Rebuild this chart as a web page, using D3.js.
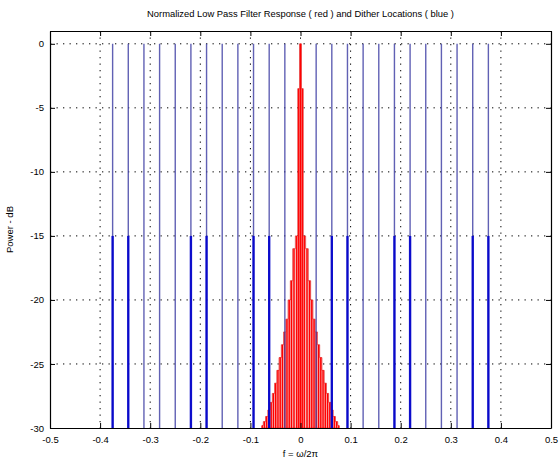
<!DOCTYPE html>
<html>
<head>
<meta charset="utf-8">
<script src="https://cdn.jsdelivr.net/npm/d3@7"></script>
<style>
  body { margin: 0; background: #fff; }
  text { font-family: "Liberation Sans", Arial, sans-serif; }
</style>
</head>
<body>
<div id="chart"></div>
<script>
// tick values
var xTicks = [-0.5, -0.4, -0.3, -0.2, -0.1, 0, 0.1, 0.2, 0.3, 0.4, 0.5];
var yTicks = [-30, -25, -20, -15, -10, -5, 0];

// dither locations (blue), all reach 0 dB
var ditherFreq = [-0.375, -0.34375, -0.3125, -0.28125, -0.25, -0.21875, -0.1875, -0.15625, -0.125, -0.09375, -0.0625, -0.03125,
                  0.03125, 0.0625, 0.09375, 0.125, 0.15625, 0.1875, 0.21875, 0.25, 0.28125, 0.3125, 0.34375, 0.375];
// dither locations drawn a second time, up to -15 dB
var ditherLowFreq = [-0.375, -0.34375, -0.21875, -0.1875, -0.09375, -0.0625,
                     0.0625, 0.09375, 0.1875, 0.21875, 0.34375, 0.375];
var ditherLowDb = -15;

// filter response (red)
var filterFreq = [-0.0765, -0.072, -0.0675, -0.063, -0.0585, -0.054, -0.0495, -0.045, -0.0405, -0.036, -0.0315, -0.027,
                  -0.0225, -0.018, -0.013, -0.0075, -0.0035, 0,
                  0.0035, 0.0075, 0.013, 0.018, 0.0225, 0.027, 0.0315, 0.036, 0.0405, 0.045, 0.0495, 0.054,
                  0.0585, 0.063, 0.0675, 0.072, 0.0765];
var filterDb = [-29.8, -29.5, -29.1, -28.6, -28.0, -27.3, -26.5, -25.5, -24.5, -23.5, -22.5, -21.5,
                -20.0, -18.5, -16.0, -15.0, -3.5, 0,
                -3.5, -15.0, -16.0, -18.5, -20.0, -21.5, -22.5, -23.5, -24.5, -25.5, -26.5, -27.3,
                -28.0, -28.6, -29.1, -29.5, -29.8];

var margin = {top: 31, right: 8, bottom: 33, left: 50},
    width = 559 - margin.left - margin.right,
    height = 461 - margin.top - margin.bottom;

var x = d3.scaleLinear().domain([-0.5, 0.5]).range([0, width]);
var y = d3.scaleLinear().domain([-30, 1]).range([height, 0]);

var svg = d3.select("#chart")
    .append("svg")
    .attr("width", width + margin.left + margin.right)
    .attr("height", height + margin.top + margin.bottom)
    .append("g")
    .attr("transform", "translate(" + margin.left + "," + margin.top + ")");

svg.append("clipPath").attr("id", "clip")
    .append("rect").attr("width", width).attr("height", height);

// dotted grid
var grid = svg.append("g").attr("stroke", "#000").attr("stroke-width", 1)
    .attr("stroke-dasharray", "1.3,5.2");
grid.selectAll(".gx")
    .data(xTicks.slice(1, -1))
    .enter().append("line")
    .attr("x1", function (d) { return x(d); })
    .attr("x2", function (d) { return x(d); })
    .attr("y1", 0).attr("y2", height);
grid.selectAll(".gy")
    .data(yTicks.slice(1))
    .enter().append("line")
    .attr("y1", function (d) { return y(d); })
    .attr("y2", function (d) { return y(d); })
    .attr("x1", 0).attr("x2", width);

var plot = svg.append("g").attr("clip-path", "url(#clip)");

// filter response: pale blocks plus red stems
var filterData = filterFreq.map(function (f, i) { return {f: f, db: filterDb[i]}; });
var area = d3.area()
    .curve(d3.curveStep)
    .x(function (d) { return x(d.f); })
    .y0(y(-30))
    .y1(function (d) { return y(d.db); });
plot.append("path")
    .datum(filterData)
    .attr("d", area)
    .attr("fill", "#f6b4b4")
    .attr("stroke", "#dd2020")
    .attr("stroke-width", 0.7);
plot.selectAll(".stem")
    .data(filterData)
    .enter().append("line")
    .attr("x1", function (d) { return x(d.f); })
    .attr("x2", function (d) { return x(d.f); })
    .attr("y1", y(-30))
    .attr("y2", function (d) { return y(d.db); })
    .attr("stroke", "#ff0000")
    .attr("stroke-width", 1.4);

// dither locations
plot.selectAll(".dither")
    .data(ditherFreq)
    .enter().append("line")
    .attr("x1", function (d) { return x(d); })
    .attr("x2", function (d) { return x(d); })
    .attr("y1", y(-30))
    .attr("y2", y(0))
    .attr("stroke", "#4646a8")
    .attr("stroke-width", 1.4)
    .attr("opacity", 0.85);
plot.selectAll(".ditherLow")
    .data(ditherLowFreq)
    .enter().append("line")
    .attr("x1", function (d) { return x(d); })
    .attr("x2", function (d) { return x(d); })
    .attr("y1", y(-30))
    .attr("y2", y(ditherLowDb))
    .attr("stroke", "#0000cc")
    .attr("stroke-width", 2.4)
    .attr("opacity", 0.9);

// axes with inward ticks
function fmtX(d) { return d === 0 ? "0" : d.toFixed(1); }
var axB = svg.append("g").attr("transform", "translate(0," + height + ")")
    .call(d3.axisBottom(x).tickValues(xTicks).tickSize(-5).tickSizeOuter(0).tickPadding(6).tickFormat(fmtX));
var axT = svg.append("g")
    .call(d3.axisTop(x).tickValues(xTicks).tickSize(-5).tickSizeOuter(0).tickFormat(""));
var axL = svg.append("g")
    .call(d3.axisLeft(y).tickValues(yTicks).tickSize(-5).tickSizeOuter(0).tickPadding(6).tickFormat(function (d) { return String(d); }));
var axR = svg.append("g").attr("transform", "translate(" + width + ",0)")
    .call(d3.axisRight(y).tickValues(yTicks).tickSize(-5).tickSizeOuter(0).tickFormat(""));

[axB, axT, axL, axR].forEach(function (a) {
    a.select(".domain").attr("stroke", "#000").attr("stroke-width", 1.2);
    a.selectAll(".tick line").attr("stroke", "#000");
    a.selectAll("text").attr("fill", "#000").style("font-size", "9.5px");
});
axB.selectAll("text").attr("dy", "0.9em");

// titles
svg.append("text")
    .attr("x", width / 2)
    .attr("y", -14)
    .attr("text-anchor", "middle")
    .style("font-size", "9.4px")
    .text("Normalized Low Pass Filter Response ( red ) and Dither Locations ( blue )");

svg.append("text")
    .attr("x", width / 2)
    .attr("y", height + 29)
    .attr("text-anchor", "middle")
    .style("font-size", "9.5px")
    .text("f = ω/2π");

svg.append("text")
    .attr("transform", "translate(" + (-37) + "," + (height / 2) + ") rotate(-90)")
    .attr("text-anchor", "middle")
    .style("font-size", "9.5px")
    .text("Power - dB");
</script>
</body>
</html>
